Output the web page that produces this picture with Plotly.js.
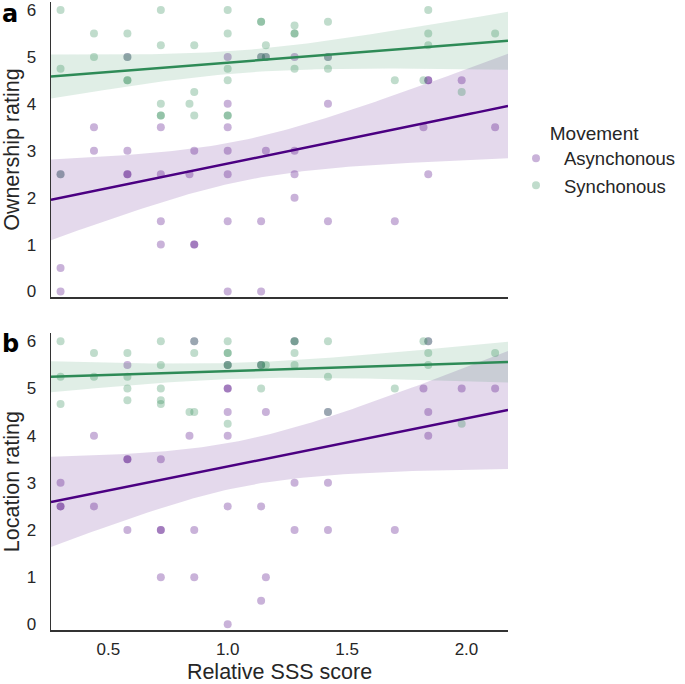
<!DOCTYPE html>
<html>
<head>
<meta charset="utf-8">
<script src="https://cdn.plot.ly/plotly-3.0.1.min.js"></script>
<style>html,body{margin:0;padding:0;background:#fff;}#chart{width:685px;height:684px;}</style>
</head>
<body>
<div id="chart"></div>
<script>
// ---- Data ----
// Panel a: Ownership rating
const ownAsyncX = [0.3,0.3,0.3, 0.44,0.44, 0.58,0.58,0.58,0.58, 0.72,0.72,0.72,0.72, 0.84, 0.86,0.86,0.86,
  1.0,1.0,1.0,1.0,1.0,1.0,1.0, 1.14,1.14,1.14, 1.16,1.16, 1.28,1.28,1.28,1.28, 1.42,1.42,1.42, 1.70, 1.82,
  1.84,1.84,1.84, 1.98, 2.12];
const ownAsyncY = [2.5,0.5,0, 3.5,3, 5,3,2.5,2.5, 3.5,2.5,1.5,1, 2.5, 3,1,1,
  5,4,3.5,3,2.5,1.5,0, 5,1.5,0, 5,3, 5,3,2.5,2, 5,4,1.5, 1.5, 3.5,
  4.5,4.5,2.5, 4.5, 3.5];
const ownSyncX = [0.3,0.3,0.3, 0.44,0.44, 0.58,0.58,0.58,0.58, 0.72,0.72,0.72,0.72,0.72, 0.84, 0.86,0.86,0.86,
  1.0,1.0,1.0,1.0,1.0,1.0, 1.14,1.14,1.14, 1.16,1.16, 1.28,1.28,1.28,1.28, 1.42,1.42,1.42, 1.70, 1.82,
  1.84,1.84,1.84, 1.98, 2.12];
const ownSyncY = [6,4.75,2.5, 5.5,5, 5.5,5,4.5,4.5, 6,5.25,4,3.75,3.75, 4, 5.25,4.25,3.75,
  6,5.5,4.75,4.5,3.75,3.75, 5.75,5.75,5, 5.25,5, 5.67,5.5,5.5,4.75, 5.75,5,4.75, 4.5, 4.5,
  6,5.5,5.25, 4.25, 5.5];
// Panel b: Location rating
const locAsyncX = [0.3,0.3,0.3, 0.44,0.44, 0.58,0.58,0.58,0.58, 0.72,0.72,0.72,0.72, 0.84, 0.86,0.86,0.86,
  1.0,1.0,1.0,1.0,1.0,1.0,1.0, 1.14,1.14,1.14, 1.16,1.16, 1.28,1.28,1.28, 1.42,1.42,1.42, 1.70, 1.82,
  1.84,1.84,1.84, 1.98, 2.12];
const locAsyncY = [3,2.5,2.5, 4,2.5, 5.5,3.5,3.5,2, 3.5,2,2,1, 4, 6,2,1,
  5.5,5,5,4.5,4,2.5,0, 5.5,2.5,0.5, 4.5,1, 6,3,2, 4.5,3,2, 2, 5,
  6,4.5,4, 5, 5];
const locSyncX = [0.3,0.3,0.3, 0.44,0.44, 0.58,0.58,0.58,0.58, 0.72,0.72,0.72,0.72,0.72, 0.84, 0.86,0.86,0.86,
  1.0,1.0,1.0,1.0,1.0,1.0, 1.14,1.14,1.14, 1.16, 1.28,1.28,1.28,1.28, 1.42,1.42,1.42, 1.70, 1.82,
  1.84,1.84,1.84, 1.98, 2.12];
const locSyncY = [6,5.25,4.67, 5.75,5.25, 5.75,5.25,5,4.75, 6,5.5,5,4.75,4.67, 4.5, 6,5.75,4.5,
  6,5.75,5.75,5.5,5.5,4.25, 5.5,5.5,5, 5.5, 6,6,5.75,5.5, 6,5.25,4.5, 5, 6,
  6,5.75,5.5, 4.25, 5.75];

const groupNames = ["Asynchonous", "Synchonous"];
const panelLabels = ["a", "b"];
const yTitles = ["Ownership rating", "Location rating"];
const xTitle = "Relative SSS score";
const legendTitle = "Movement";

// ---- Styles ----
const colAsync = [75, 0, 130];
const colSync = [46, 139, 87];
const xRange = [0.26, 2.174];
const yRange = [-0.12, 6.17];
const FONT = "Liberation Sans, Arial, sans-serif";
const TXT = "#262626";

function rgba(c, a) { return `rgba(${c[0]},${c[1]},${c[2]},${a})`; }

function tq(df) { // approx. 97.5% quantile of t distribution
  const z = 1.959964;
  return z + (z*z*z + z) / (4*df) + (5*Math.pow(z,5) + 16*z*z*z + 3*z) / (96*df*df);
}

function regression(xs, ys) {
  const n = xs.length;
  const mx = xs.reduce((a,b)=>a+b,0)/n, my = ys.reduce((a,b)=>a+b,0)/n;
  let sxx = 0, sxy = 0;
  for (let i=0;i<n;i++){ sxx += (xs[i]-mx)**2; sxy += (xs[i]-mx)*(ys[i]-my); }
  const b = sxy/sxx, a = my - b*mx;
  let sse = 0;
  for (let i=0;i<n;i++){ sse += (ys[i]-a-b*xs[i])**2; }
  const s = Math.sqrt(sse/(n-2));
  const t = tq(n-2);
  const gx = [], gy = [], lo = [], hi = [];
  for (let k=0;k<=100;k++){
    const x = xRange[0] + (xRange[1]-xRange[0])*k/100;
    const y = a + b*x;
    const se = s*Math.sqrt(1/n + (x-mx)**2/sxx);
    gx.push(x); gy.push(y); lo.push(y - t*se); hi.push(y + t*se);
  }
  return {gx, gy, lo, hi};
}

const traces = [];
function addGroup(xs, ys, col, name, xa, ya, showLegend) {
  traces.push({
    type: "scatter", mode: "markers", x: xs, y: ys, xaxis: xa, yaxis: ya,
    name: name, showlegend: showLegend,
    marker: {color: rgba(col, 1), opacity: 0.3, size: 8, line: {width: 0}},
    hoverinfo: "x+y"
  });
  const r = regression(xs, ys);
  traces.push({
    type: "scatter", mode: "lines", xaxis: xa, yaxis: ya,
    x: r.gx.concat(r.gx.slice().reverse()),
    y: r.hi.concat(r.lo.slice().reverse()),
    fill: "toself", fillcolor: rgba(col, 0.15), line: {width: 0},
    showlegend: false, hoverinfo: "skip"
  });
  traces.push({
    type: "scatter", mode: "lines", xaxis: xa, yaxis: ya, x: r.gx, y: r.gy,
    line: {color: rgba(col, 1), width: 2.5}, showlegend: false, hoverinfo: "skip"
  });
}
addGroup(ownAsyncX, ownAsyncY, colAsync, groupNames[0], "x", "y", true);
addGroup(ownSyncX, ownSyncY, colSync, groupNames[1], "x", "y", true);
addGroup(locAsyncX, locAsyncY, colAsync, groupNames[0], "x2", "y2", false);
addGroup(locSyncX, locSyncY, colSync, groupNames[1], "x2", "y2", false);

const axisBase = {
  showline: true, linecolor: "#333333", linewidth: 1.5, showgrid: false, zeroline: false,
  ticks: "", tickfont: {family: FONT, size: 17, color: TXT}
};
const titleFont = {family: FONT, size: 21.5, color: TXT};
const layout = {
  width: 685, height: 684,
  margin: {l: 51, r: 177, t: 2, b: 54},
  paper_bgcolor: "#ffffff", plot_bgcolor: "#ffffff",
  font: {family: FONT, color: TXT},
  showlegend: true,
  legend: {
    x: 1.0, xanchor: "left", y: 0.82, yanchor: "top",
    font: {family: FONT, size: 18.5, color: TXT},
    title: {text: legendTitle, side: "top center", font: {family: FONT, size: 19, color: TXT}},
    itemsizing: "trace", itemwidth: 46, tracegroupgap: 0, bgcolor: "rgba(0,0,0,0)"
  },
  xaxis: Object.assign({}, axisBase, {domain: [0,1], anchor: "y", range: xRange, showticklabels: false, matches: "x2"}),
  xaxis2: Object.assign({}, axisBase, {domain: [0,1], anchor: "y2", range: xRange, tick0: 0.5, dtick: 0.5, tickformat: ".1f",
    ticklabelstandoff: 3,
    title: {text: xTitle, font: titleFont, standoff: 11}}),
  yaxis: Object.assign({}, axisBase, {domain: [0.530, 1], anchor: "x", range: yRange, dtick: 1, tick0: 0,
    ticklabelstandoff: 10,
    title: {text: yTitles[0], font: titleFont, standoff: 2}}),
  yaxis2: Object.assign({}, axisBase, {domain: [0, 0.4725], anchor: "x2", range: yRange, dtick: 1, tick0: 0,
    ticklabelstandoff: 10,
    title: {text: yTitles[1], font: titleFont, standoff: 2}}),
  annotations: [
    {text: "<b>" + panelLabels[0] + "</b>", xref: "paper", yref: "paper", x: -0.112, y: 1.006, xanchor: "left", yanchor: "top",
      showarrow: false, font: {family: "DejaVu Sans, sans-serif", size: 24, color: "#000"}},
    {text: "<b>" + panelLabels[1] + "</b>", xref: "paper", yref: "paper", x: -0.112, y: 0.481, xanchor: "left", yanchor: "top",
      showarrow: false, font: {family: "DejaVu Sans, sans-serif", size: 24, color: "#000"}}
  ]
};
Plotly.newPlot("chart", traces, layout, {displayModeBar: false, staticPlot: true});
</script>
</body>
</html>
